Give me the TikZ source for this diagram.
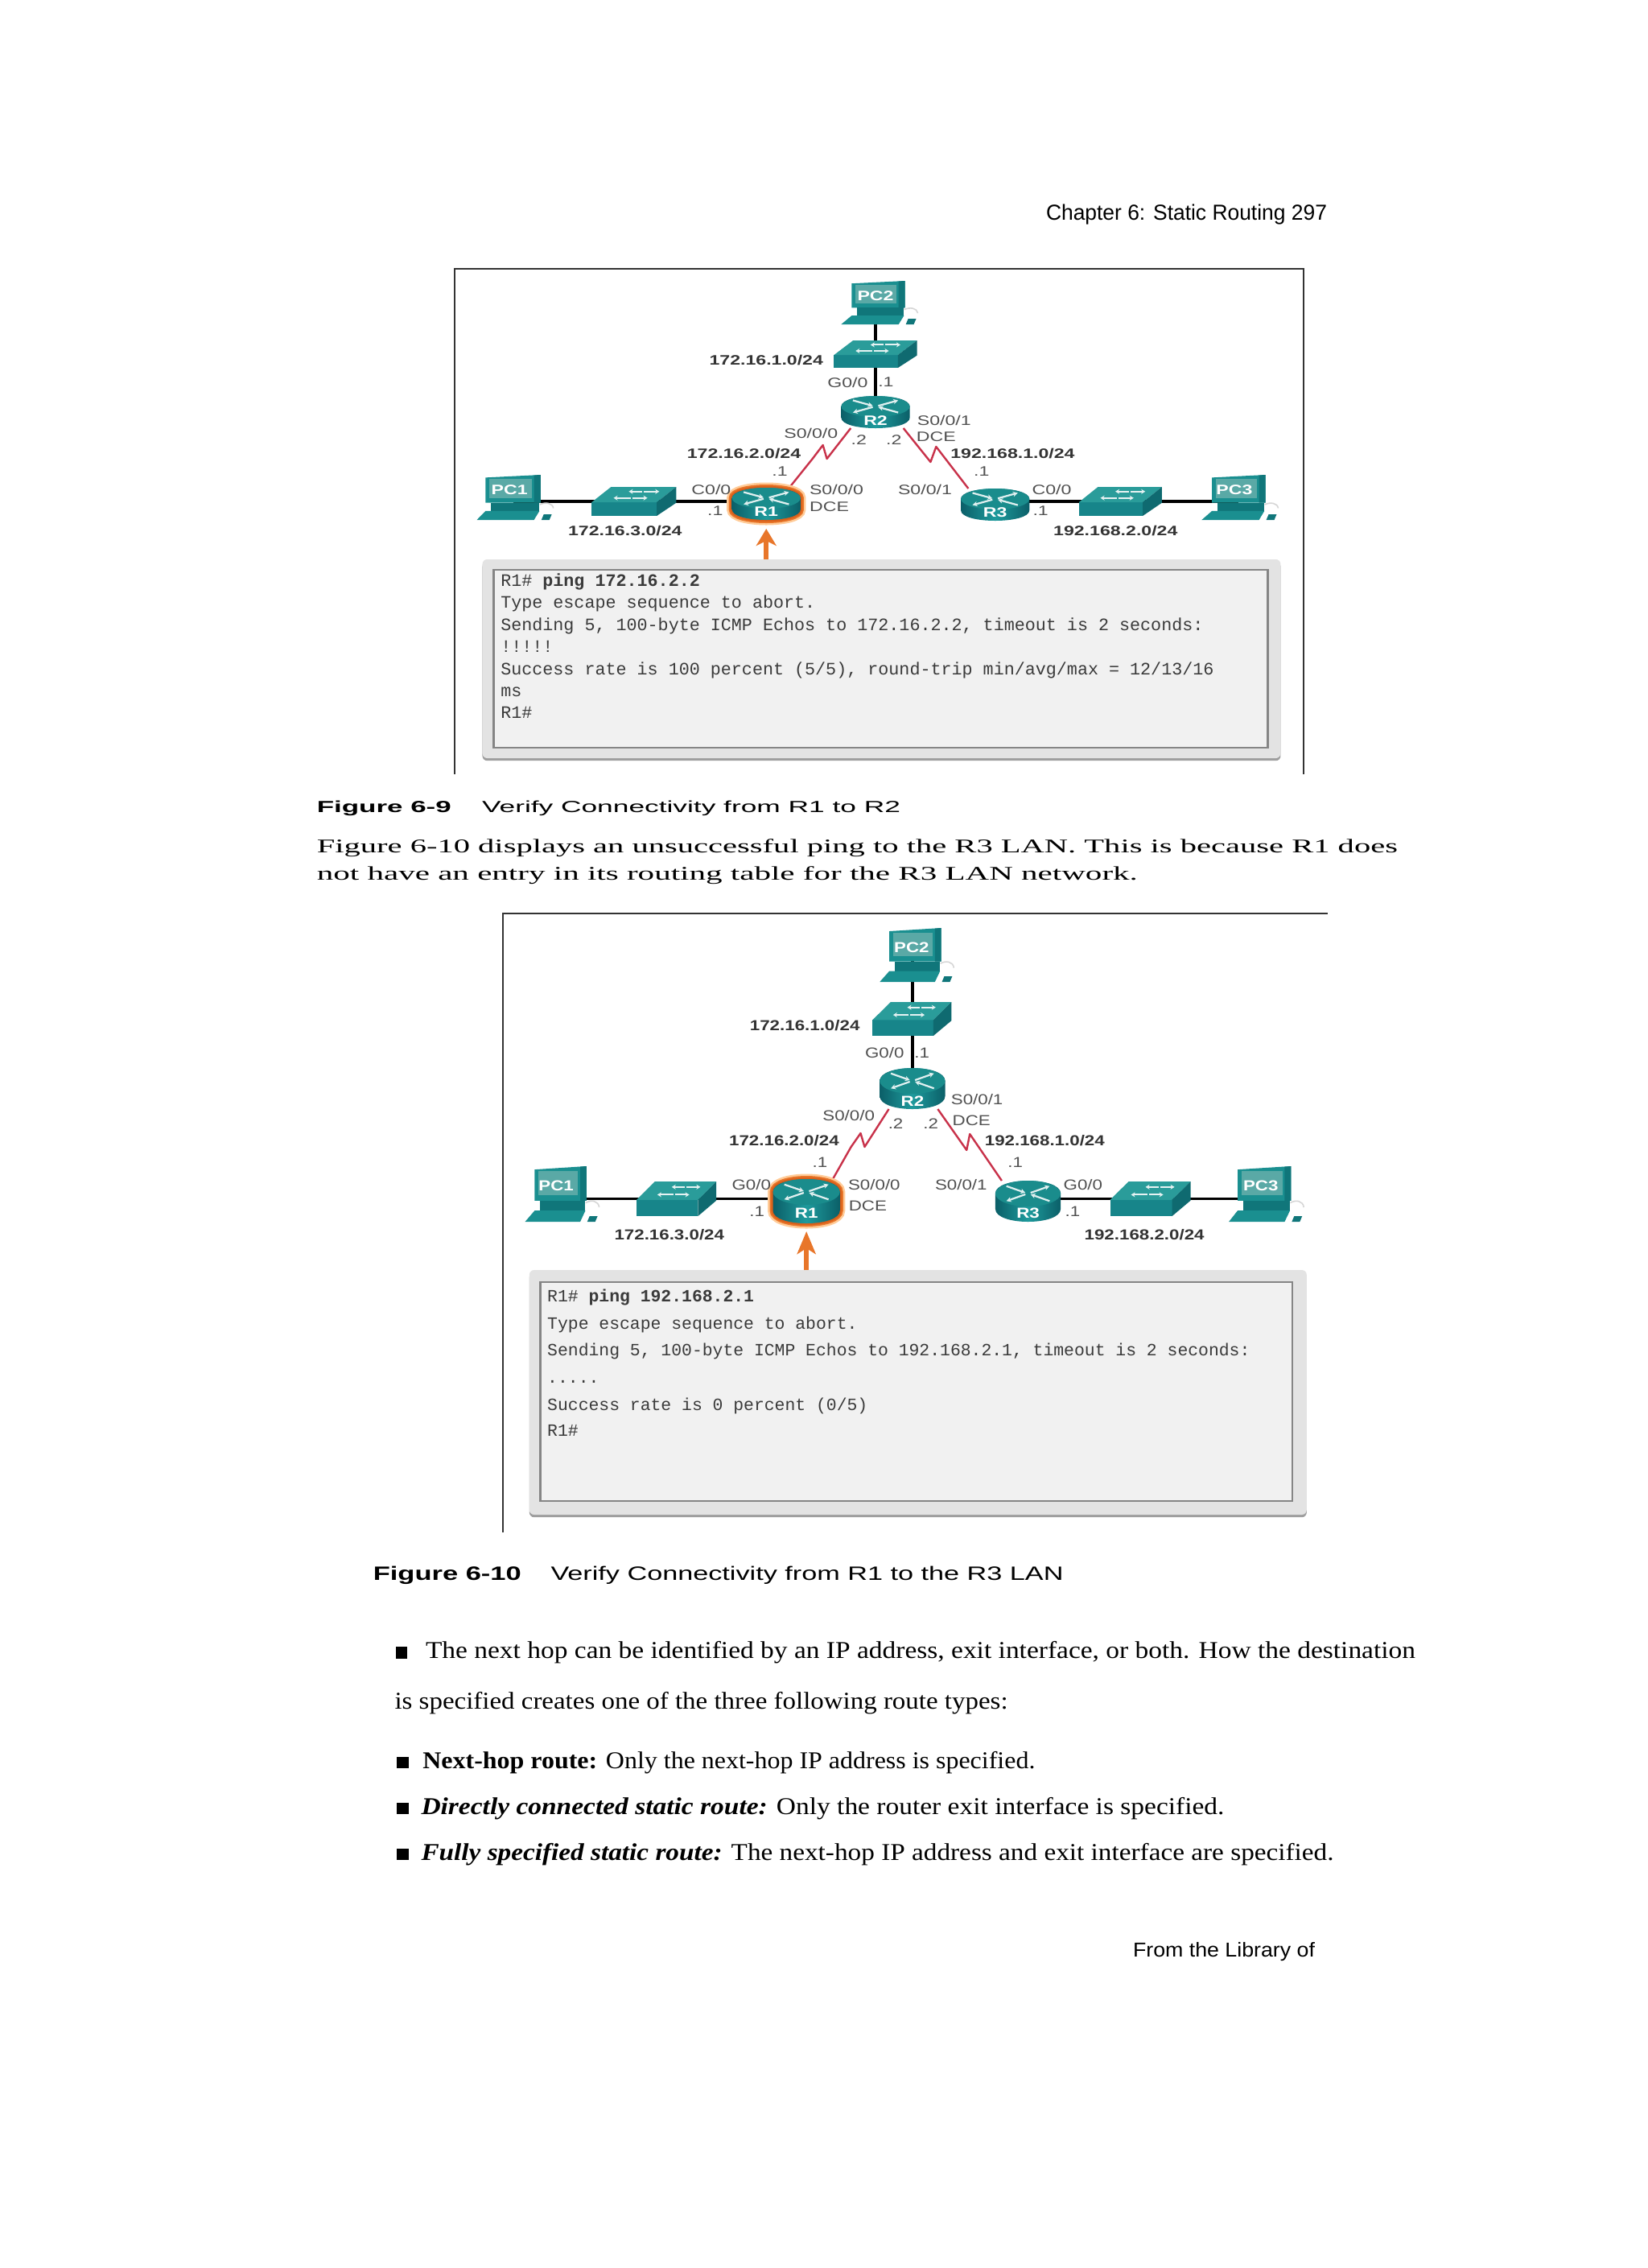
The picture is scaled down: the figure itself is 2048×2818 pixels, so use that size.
\documentclass[tikz,border=0pt]{standalone}
\usepackage{fontspec}
\usepackage{graphicx}
\setmainfont{Liberation Serif}
\setsansfont{Liberation Sans}
\setmonofont{Liberation Mono}
\usetikzlibrary{arrows.meta}
\pgfdeclarelayer{bg}
\pgfsetlayers{bg,main}
\definecolor{swfront}{HTML}{17858A}
\definecolor{swtopc}{HTML}{2A9C9A}
\definecolor{swsidec}{HTML}{0F6A70}
\definecolor{rdark}{HTML}{0B5F68}
\definecolor{rmid}{HTML}{1E9A9C}
\definecolor{rtop}{HTML}{1A8C8C}
\definecolor{pcbodyc}{HTML}{1A8F90}
\definecolor{pcscreenc}{HTML}{5AA9A6}
\definecolor{pcdarkc}{HTML}{10767A}
\definecolor{ifgray}{HTML}{505050}
\definecolor{lbdark}{HTML}{333333}
\definecolor{serialred}{HTML}{C8324A}
\definecolor{arroworange}{HTML}{E8762A}
\definecolor{glowdark}{HTML}{D9601A}
\definecolor{termout}{HTML}{E3E3E3}
\definecolor{termin}{HTML}{F1F1F1}
\definecolor{termline}{HTML}{858585}
\definecolor{monotext}{HTML}{3A3A3A}
\newdimen\px \px=0.5pt
\def\lx{1.36}
\def\lf{8.5}
\tikzset{
  lan/.style={draw=black,line width=1.8pt},
  serial/.style={draw=serialred,line width=1.2pt,line join=round},
  frameln/.style={draw=lbdark,line width=1.1pt},
  pingarrowa/.style={draw=arroworange,line width=3pt,-{Stealth[length=10.5pt,width=12.5pt,inset=3pt]}},
  pingarrowb/.style={draw=arroworange,line width=3.2pt,-{Stealth[length=14pt,width=11.5pt,inset=3.5pt]}},
  termouter/.style={rounded corners=3pt,fill=termout,inner sep=0pt,outer sep=0pt,
    preaction={fill=black!38,transform canvas={yshift=-1.6pt}}},
  terminner/.style={draw=termline,line width=1.4pt,fill=termin,inner sep=0pt,outer sep=0pt},
  ph/.style={inner sep=0pt,outer sep=0pt},
  txt/.style={anchor=base west,inner sep=0pt,outer sep=0pt}
}
% name, x, baseline, width(px), size(pt), text
\newcommand\tx[6]{\node[txt] (#1) at (#2,#3) {\resizebox{#4\px}{\height}{\fontsize{#5pt}{#5pt}\selectfont #6}};}
% terminal line
\newcommand\mono[5]{\node[txt,text=monotext] (#1) at (#2,#3) {\fontsize{#4pt}{#4pt}\selectfont\ttfamily #5};}
% interface label
\newcommand\iflab[4]{\node[ph,text=ifgray] (#1) at (#2,#3) {\scalebox{\lx}[1]{\fontsize{\lf pt}{\lf pt}\selectfont\sffamily #4}};}
% network label
\newcommand\netlab[4]{\node[ph,text=lbdark] (#1) at (#2,#3) {\scalebox{\lx}[1]{\fontsize{\lf pt}{\lf pt}\selectfont\sffamily\bfseries #4}};}
% white device label
\newcommand\devlab[4]{\node[ph,text=white] (#1) at (#2,#3) {\scalebox{\lx}[1]{\fontsize{\lf pt}{\lf pt}\selectfont\sffamily\bfseries #4}};}
% switch: name,x0,x1,y0,y1
\newcommand\devswitch[5]{%
  \pgfmathsetmacro\sdx{0.23*(#3-#2)}%
  \pgfmathsetmacro\sth{0.53*(#5-#4)}%
  \pgfmathsetmacro\sxf{#3-\sdx}%
  \pgfmathsetmacro\syf{#4+\sth}%
  \pgfmathsetmacro\syb{#5-0.85*\sth}%
  \pgfmathsetmacro\sw{(#3-#2)/2}%
  \pgfmathsetmacro\sh{(#5-#4)/2}%
  \pgfmathsetmacro\sww{#3-#2}%
  \node[ph,minimum width=\sw pt,minimum height=\sh pt] (#1) at ({(#2+#3)/2},{(#4+#5)/2}) {};
  \fill[swfront] (#2,\syf) rectangle (\sxf,#5);
  \fill[swtopc] (#2,\syf) -- ({#2+\sdx},#4) -- (#3,#4) -- (\sxf,\syf) -- cycle;
  \fill[swsidec] (\sxf,\syf) -- (#3,#4) -- (#3,\syb) -- (\sxf,#5) -- cycle;
  \foreach \ya/\xa/\xb/\xc/\xd in {0.3/0.44/0.6/0.62/0.8,0.72/0.26/0.46/0.48/0.66}{
    \draw[white!90!teal,line width=1pt,-{Stealth[length=2.5pt,width=3pt]}] ({#2+\xb*\sww},{#4+\ya*\sth}) -- ({#2+\xa*\sww},{#4+\ya*\sth});
    \draw[white!90!teal,line width=1pt,-{Stealth[length=2.5pt,width=3pt]}] ({#2+\xc*\sww},{#4+\ya*\sth}) -- ({#2+\xd*\sww},{#4+\ya*\sth});
  }
}
% body outline of a router: cx,y1,y2,hw,ry
\newcommand\rbody[5]{(#1-#4,#2+#5) -- (#1-#4,#3-#5) .. controls (#1-#4,#3+#5/3) and (#1+#4,#3+#5/3) .. (#1+#4,#3-#5) -- (#1+#4,#2+#5) .. controls (#1+#4,#2-#5/3) and (#1-#4,#2-#5/3) .. cycle}
% glow: cx,y1,y2,hw,ry
\newcommand\routerglow[5]{%
  \draw[draw=orange!40,line width=6.5pt] \rbody{#1}{#2}{#3}{#4}{#5};
  \draw[draw=arroworange,line width=4pt] \rbody{#1}{#2}{#3}{#4}{#5};
  \draw[draw=glowdark,line width=2.2pt] \rbody{#1}{#2}{#3}{#4}{#5};
}
% router: name,cx,y1,y2,hw,ry
\newcommand\devrouter[6]{%
  \pgfmathsetmacro\rw{#5}%
  \pgfmathsetmacro\rh{(#4-#3)/2}%
  \node[ph,minimum width=\rw pt,minimum height=\rh pt] (#1) at (#2,{(#3+#4)/2}) {};
  \shade[left color=rdark,right color=rdark,middle color=rmid] \rbody{#2}{#3}{#4}{#5}{#6};
  \fill[rtop] (#2,#3+#6) ellipse [x radius=#5,y radius=#6];
  \foreach \sgx/\sgy in {-1/-1,1/1}{
    \draw[white!88!teal,line width=1.1pt,-{Stealth[length=3pt,width=3.2pt]}] ({#2+\sgx*0.66*#5},{#3+#6+\sgy*0.58*#6}) -- ({#2+\sgx*0.08*#5},{#3+#6+\sgy*0.06*#6});
  }
  \foreach \sgx/\sgy in {1/-1,-1/1}{
    \draw[white!88!teal,line width=1.1pt,-{Stealth[length=3pt,width=3.2pt]}] ({#2+\sgx*0.08*#5},{#3+#6+\sgy*0.06*#6}) -- ({#2+\sgx*0.66*#5},{#3+#6+\sgy*0.58*#6});
  }
}
% pc: name,x0,x1,y0,y1,xb
\newcommand\devpc[6]{%
  \pgfmathsetmacro\pw{#3-#2}%
  \pgfmathsetmacro\ph{#5-#4}%
  \pgfmathsetmacro\pmb{#4+0.62*\ph}%
  \pgfmathsetmacro\pnw{\pw/2}%
  \pgfmathsetmacro\pnh{0.31*\ph}%
  \node[ph,minimum width=\pnw pt,minimum height=\pnh pt] (#1) at ({(#2+#3)/2},{(#4+\pmb)/2}) {};
  \draw[black!16,line width=0.8pt] ({#3-1},{#4+0.66*\ph}) .. controls ({#3+6},{#4+0.60*\ph}) and ({#3+15},{#4+0.62*\ph}) .. ({#3+16},{#4+0.74*\ph});
  \fill[pcbodyc] (#2,{#4+0.06*\ph}) -- (#3,#4) -- (#3,\pmb) -- (#2,\pmb) -- cycle;
  \fill[pcdarkc] ({#3-0.12*\pw},{#4+0.01*\ph}) -- (#3,#4) -- (#3,\pmb) -- ({#3-0.12*\pw},\pmb) -- cycle;
  \fill[pcscreenc] ({#2+0.07*\pw},{#4+0.09*\ph}) rectangle ({#3-0.16*\pw},{#4+0.52*\ph});
  \fill[pcdarkc] ({#2+0.1*\pw},\pmb) rectangle ({#3-0.02*\pw},{#4+0.8*\ph});
  \fill[pcbodyc] (#6,#5) -- (#2,{#5-0.2*\ph}) -- ({#3-0.02*\pw},{#5-0.2*\ph}) -- ({#3-0.12*\pw},#5) -- cycle;
  \fill[pcdarkc] ({#3+1},#5) -- ({#3+4},{#5-7}) -- ({#3+14},{#5-7}) -- ({#3+11},#5) -- cycle;
}
\begin{document}
\begin{tikzpicture}[x=0.5pt,y=-0.5pt]
\useasboundingbox (0,0) rectangle (2048,2818);
\begin{pgfonlayer}{bg}
\fill[white] (0,0) rectangle (2048,2818);
\end{pgfonlayer}
% page text
\tx{hdr}{1300}{273}{349}{13.5}{\sffamily Chapter 6: Static Routing 297}
% ===== Figure 6-9 =====
\begin{scope}[x=0.4955pt,xshift=2.43pt]
\draw[frameln] (565,962) -- (565,334) -- (1630,334) -- (1630,962);
\def\lx{1.36}\def\lf{8.5}
\devpc{apc2}{1063}{1130}{349}{403}{1050}
\devpc{apc1}{604}{673}{590}{646}{593}
\devpc{apc3}{1515}{1582}{590}{646}{1502}
\devswitch{asw2}{1041}{1145}{423}{457}
\devswitch{asw1}{737}{843}{605}{641}
\devswitch{asw3}{1348}{1452}{605}{641}
\routerglow{956}{606}{646}{43}{13}
\devrouter{ar1}{956}{606}{646}{43}{13}
\devrouter{ar2}{1093}{492}{532}{43}{13}
\devrouter{ar3}{1243}{607}{647}{43}{13}
\devlab{apc2t}{1093}{368}{PC2}
\devlab{apc1t}{634}{609}{PC1}
\devlab{apc3t}{1543}{609}{PC3}
\devlab{ar1t}{956}{636}{R1}
\devlab{ar2t}{1093}{523}{R2}
\devlab{ar3t}{1243}{637}{R3}
\coordinate (ab1) at (1014,570);
\coordinate (ab2) at (1027,553);
\coordinate (ab3) at (1032,570);
\coordinate (ab4) at (1162,574);
\coordinate (ab5) at (1169,555);
\begin{pgfonlayer}{bg}
\draw[lan] (asw2.center |- apc2.center) -- (asw2.center);
\draw[lan] (asw2.center) -- (ar2.center);
\draw[lan] (apc1.center |- asw1.center) -- (asw1.center);
\draw[lan] (asw1.center) -- (asw1.center -| ar1.center);
\draw[lan] (asw3.center -| ar3.center) -- (asw3.center);
\draw[lan] (asw3.center) -- (apc3.center |- asw3.center);
\draw[serial] (ar1.35) -- (ab1) -- (ab2) -- (ab3) -- (ar2.213);
\draw[serial] (ar2.330) -- (ab4) -- (ab5) -- (ar3.149);
\end{pgfonlayer}
\netlab{an1}{956}{447}{172.16.1.0/24}
\netlab{an2}{928}{563}{172.16.2.0/24}
\netlab{an3}{1265}{563}{192.168.1.0/24}
\netlab{an4}{779}{659}{172.16.3.0/24}
\netlab{an5}{1394}{659}{192.168.2.0/24}
\iflab{ai1}{1058}{475}{G0/0}
\iflab{ai2}{1106}{475}{.1}
\iflab{ai3}{1012}{538}{S0/0/0}
\iflab{ai4}{1072}{547}{.2}
\iflab{ai5}{1116}{547}{.2}
\iflab{ai6}{1179}{522}{S0/0/1}
\iflab{ai7}{1169}{543}{DCE}
\iflab{ai8}{973}{586}{.1}
\iflab{ai9}{1226}{586}{.1}
\iflab{ai10}{887}{608}{C0/0}
\iflab{ai11}{1044}{608}{S0/0/0}
\iflab{ai12}{1035}{630}{DCE}
\iflab{ai13}{892}{635}{.1}
\iflab{ai14}{1155}{608}{S0/0/1}
\iflab{ai15}{1314}{608}{C0/0}
\iflab{ai16}{1300}{635}{.1}
% terminal
\node[termouter,minimum width=496pt,minimum height=123.5pt] (at0) at (1100.5,818.5) {};
\node[terminner,minimum width=481pt,minimum height=110.5pt] (at1) at (1099.5,818.5) {};
\draw[pingarrowa,shorten >=5.5pt] (ar1.south |- at0.north) -- (ar1.south);
\mono{al1}{623}{728}{10.86}{R1\# \textbf{ping 172.16.2.2}}
\mono{al2}{623}{755}{10.86}{Type escape sequence to abort.}
\mono{al3}{623}{783}{10.86}{Sending 5, 100-byte ICMP Echos to 172.16.2.2, timeout is 2 seconds:}
\mono{al4}{623}{810}{10.86}{!!!!!}
\mono{al5}{623}{838}{10.86}{Success rate is 100 percent (5/5), round-trip min/avg/max = 12/13/16}
\mono{al6}{623}{865}{10.86}{ms}
\mono{al7}{623}{892}{10.86}{R1\#}
\end{scope}
% captions
\tx{cap1a}{393.8}{1009}{167}{10}{\sffamily\bfseries Figure 6-9}
\tx{cap1b}{599}{1009}{520}{10}{\sffamily Verify Connectivity from R1 to R2}
\tx{par1}{393.8}{1059}{1343}{12}{Figure 6-10 displays an unsuccessful ping to the R3 LAN. This is because R1 does}
\tx{par2}{393.8}{1093}{1020}{12}{not have an entry in its routing table for the R3 LAN network.}
% ===== Figure 6-10 =====
\begin{scope}[x=0.49525pt,xshift=2.85pt]
\draw[frameln] (625,1904) -- (625,1135) -- (1660,1135);
\def\lx{1.24}\def\lf{9}
\devpc{bpc2}{1110}{1175}{1153}{1220}{1098}
\devpc{bpc1}{665}{730}{1449}{1518}{653}
\devpc{bpc3}{1547}{1614}{1449}{1518}{1536}
\devswitch{bsw2}{1089}{1188}{1245}{1287}
\devswitch{bsw1}{793}{893}{1468}{1511}
\devswitch{bsw3}{1387}{1488}{1468}{1511}
\routerglow{1006}{1465}{1520}{42}{16}
\devrouter{br1}{1006}{1465}{1520}{42}{16}
\devrouter{br2}{1139}{1327}{1378}{41}{16}
\devrouter{br3}{1284}{1467}{1518}{41}{16}
\devlab{bpc2t}{1138}{1177}{PC2}
\devlab{bpc1t}{692}{1473}{PC1}
\devlab{bpc3t}{1576}{1473}{PC3}
\devlab{br1t}{1006}{1507}{R1}
\devlab{br2t}{1139}{1368}{R2}
\devlab{br3t}{1284}{1507}{R3}
\coordinate (bb1) at (1062,1425);
\coordinate (bb2) at (1074,1408);
\coordinate (bb3) at (1079,1425);
\coordinate (bb4) at (1207,1429);
\coordinate (bb5) at (1211,1409);
\begin{pgfonlayer}{bg}
\draw[lan] (bsw2.center -| br2.center) -- (bpc2.center -| br2.center);
\draw[lan] (bsw2.center -| br2.center) -- (br2.center);
\draw[lan] (bpc1.center |- bsw1.center) -- (bsw1.center);
\draw[lan] (bsw1.center) -- (bsw1.center -| br1.center);
\draw[lan] (bsw3.center -| br3.center) -- (bsw3.center);
\draw[lan] (bsw3.center) -- (bpc3.center |- bsw3.center);
\draw[serial] (br1.40) -- (bb1) -- (bb2) -- (bb3) -- (br2.221);
\draw[serial] (br2.321) -- (bb4) -- (bb5) -- (br3.142);
\end{pgfonlayer}
\netlab{bn1}{1004}{1274}{172.16.1.0/24}
\netlab{bn2}{978}{1417}{172.16.2.0/24}
\netlab{bn3}{1305}{1417}{192.168.1.0/24}
\netlab{bn4}{834}{1534}{172.16.3.0/24}
\netlab{bn5}{1430}{1534}{192.168.2.0/24}
\iflab{bi1}{1104}{1308}{G0/0}
\iflab{bi2}{1151}{1308}{.1}
\iflab{bi3}{1059}{1386}{S0/0/0}
\iflab{bi4}{1118}{1396}{.2}
\iflab{bi5}{1162}{1396}{.2}
\iflab{bi6}{1220}{1366}{S0/0/1}
\iflab{bi7}{1213}{1392}{DCE}
\iflab{bi8}{1023}{1444}{.1}
\iflab{bi9}{1268}{1444}{.1}
\iflab{bi10}{937}{1472}{G0/0}
\iflab{bi11}{1091}{1472}{S0/0/0}
\iflab{bi12}{1083}{1498}{DCE}
\iflab{bi13}{944}{1505}{.1}
\iflab{bi14}{1200}{1472}{S0/0/1}
\iflab{bi15}{1353}{1472}{G0/0}
\iflab{bi16}{1340}{1505}{.1}
% terminal
\node[termouter,minimum width=483pt,minimum height=152pt] (bt0) at (1146,1730) {};
\node[terminner,minimum width=467.2pt,minimum height=136pt] (bt1) at (1144,1729) {};
\draw[pingarrowb,shorten >=5pt] (br1.south |- bt0.north) -- (br1.south);
\mono{bl1}{681}{1617}{10.7}{R1\# \textbf{ping 192.168.2.1}}
\mono{bl2}{681}{1651}{10.7}{Type escape sequence to abort.}
\mono{bl3}{681}{1684}{10.7}{Sending 5, 100-byte ICMP Echos to 192.168.2.1, timeout is 2 seconds:}
\mono{bl4}{681}{1718}{10.7}{.....}
\mono{bl5}{681}{1752}{10.7}{Success rate is 0 percent (0/5)}
\mono{bl6}{681}{1784}{10.7}{R1\#}
\end{scope}
% lower text
\tx{cap2a}{463.8}{1963}{184}{12}{\sffamily\bfseries Figure 6-10}
\tx{cap2b}{684.5}{1963}{637}{12}{\sffamily Verify Connectivity from R1 to the R3 LAN}
\fill[black] (492,2046) rectangle (506.4,2061);
\tx{p1}{529}{2060}{1230}{15}{The next hop can be identified by an IP address, exit interface, or both. How the destination}
\tx{p2}{490.5}{2123}{762}{15}{is specified creates one of the three following route types:}
\fill[black] (492.8,2183) rectangle (507.6,2197);
\tx{p3}{525.4}{2197}{761}{15}{\textbf{Next-hop route:} Only the next-hop IP address is specified.}
\fill[black] (492.8,2240) rectangle (507.6,2254);
\tx{p4}{523.5}{2254}{998}{15}{\textbf{\textit{Directly connected static route:}} Only the router exit interface is specified.}
\fill[black] (492.8,2297) rectangle (507.6,2311);
\tx{p5}{523.5}{2311}{1134}{15}{\textbf{\textit{Fully specified static route:}} The next-hop IP address and exit interface are specified.}
\tx{ftr}{1408}{2431}{226}{12.5}{\sffamily From the Library of}
\end{tikzpicture}
\end{document}
